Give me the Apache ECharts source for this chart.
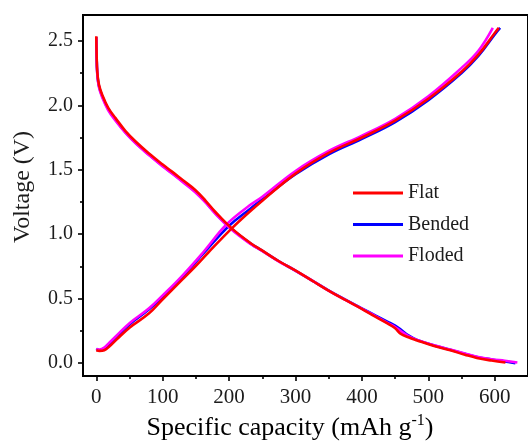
<!DOCTYPE html>
<html>
<head>
<meta charset="utf-8">
<script src="https://cdn.jsdelivr.net/npm/echarts@6/dist/echarts.min.js"></script>
<style>
  html, body { margin: 0; padding: 0; background: #fff; }
  #chart { width: 528px; height: 448px; }
</style>
</head>
<body>
<div id="chart"></div>
<script>
// Galvanostatic charge/discharge profiles: [capacity (mAh/g), voltage (V)]
const flatDischarge = [[0,2.535],[0.5,2.40],[1.5,2.26],[4,2.16],[9,2.08],[18,1.98],[29,1.90],[44,1.80],[60,1.715],[79,1.628],[100,1.54],[114,1.485],[130,1.42],[149,1.343],[165,1.257],[179,1.174],[204,1.045],[233,0.928],[249,0.876],[275,0.79],[299,0.721],[325,0.64],[349,0.565],[375,0.49],[399,0.423],[420,0.36],[439,0.306],[450,0.27],[458,0.229],[470,0.20],[483,0.176],[510,0.13],[533,0.099],[555,0.065],[573,0.04],[595,0.02],[616,0.005]];
const flatCharge = [[0,0.10],[5,0.095],[12,0.10],[20,0.13],[30,0.18],[50,0.275],[79,0.384],[100,0.495],[129,0.645],[150,0.755],[169,0.86],[204,1.045],[230,1.17],[250,1.26],[300,1.47],[350,1.63],[400,1.75],[450,1.88],[500,2.05],[550,2.26],[575,2.39],[600,2.56],[606,2.60]];

const bendedDischarge = [[0,2.53],[0.5,2.39],[1.5,2.25],[4,2.15],[9,2.07],[18,1.97],[29,1.89],[44,1.79],[60,1.705],[79,1.62],[100,1.53],[114,1.475],[130,1.41],[149,1.33],[165,1.247],[179,1.165],[204,1.04],[233,0.925],[249,0.875],[275,0.79],[299,0.72],[325,0.64],[349,0.566],[375,0.492],[399,0.427],[420,0.37],[439,0.32],[450,0.29],[458,0.262],[470,0.215],[483,0.18],[510,0.135],[533,0.104],[555,0.072],[573,0.048],[595,0.028],[615,0.012],[631,0.0]];
const bendedCharge = [[0,0.11],[5,0.10],[12,0.115],[20,0.15],[30,0.20],[50,0.30],[79,0.415],[100,0.515],[129,0.665],[163,0.86],[200,1.065],[230,1.19],[250,1.27],[300,1.465],[350,1.62],[400,1.74],[450,1.87],[500,2.04],[550,2.25],[575,2.38],[600,2.55],[608,2.60]];

const flodedDischarge = [[0,2.525],[0.5,2.38],[1.5,2.24],[4,2.14],[9,2.06],[18,1.96],[29,1.88],[44,1.785],[60,1.70],[79,1.615],[100,1.525],[114,1.47],[130,1.405],[149,1.325],[165,1.242],[179,1.16],[204,1.035],[233,0.922],[249,0.872],[275,0.788],[299,0.72],[325,0.64],[349,0.565],[375,0.49],[399,0.425],[420,0.365],[439,0.31],[450,0.28],[458,0.25],[470,0.21],[483,0.18],[510,0.136],[533,0.105],[555,0.074],[573,0.05],[595,0.03],[615,0.018],[634,0.005]];
const flodedCharge = [[0,0.11],[5,0.105],[12,0.12],[20,0.16],[30,0.21],[50,0.31],[79,0.423],[100,0.525],[129,0.675],[161,0.86],[196,1.075],[230,1.22],[250,1.29],[300,1.49],[350,1.645],[400,1.765],[450,1.895],[500,2.07],[550,2.29],[575,2.42],[597,2.60]];

const legendNames = ['Flat', 'Bended', 'Floded'];
const xTicks = [0, 100, 200, 300, 400, 500, 600];
const xMinorTicks = [50, 150, 250, 350, 450, 550];
const yTicks = [0, 0.5, 1.0, 1.5, 2.0, 2.5];
const yMinorTicks = [0.25, 0.75, 1.25, 1.75, 2.25];

const FONT = '"Liberation Serif", "Times New Roman", serif';
const INK = '#1c1c1c';
const colors = { Flat: '#ff0000', Bended: '#0000ff', Floded: '#ff00ff' };

function curve(name, data) {
  return {
    name: name, type: 'line', data: data,
    xAxisIndex: 0, yAxisIndex: 0,
    showSymbol: false, symbol: 'none', smooth: 0.4,
    lineStyle: { color: colors[name], width: 2.6 },
    itemStyle: { color: colors[name] },
    animation: false
  };
}

const xBase = { type: 'value', min: -20, max: 650, gridIndex: 0 };
const yBase = { type: 'value', min: -0.1, max: 2.7, gridIndex: 0 };

const chart = echarts.init(document.getElementById('chart'), null, { renderer: 'canvas' });
chart.setOption({
  backgroundColor: '#fff',
  animation: false,
  grid: { left: 83, right: -3, top: 15, bottom: 72, show: true, borderColor: '#000', borderWidth: 2, backgroundColor: 'transparent' },
  xAxis: [
    Object.assign({}, xBase, {
      position: 'bottom',
      axisLine: { show: true, onZero: false, lineStyle: { color: '#000', width: 2 } },
      axisTick: { show: true, inside: false, length: 5, lineStyle: { color: '#000', width: 1.6 }, customValues: xTicks },
      axisLabel: { show: true, margin: 11, fontFamily: FONT, fontSize: 21, color: INK, customValues: xTicks },
      splitLine: { show: false }
    }),
    Object.assign({}, xBase, {
      position: 'bottom',
      axisLine: { show: false, onZero: false },
      axisTick: { show: true, inside: false, length: 3, lineStyle: { color: '#000', width: 1.6 }, customValues: xMinorTicks },
      axisLabel: { show: false },
      splitLine: { show: false }
    })
  ],
  yAxis: [
    Object.assign({}, yBase, {
      position: 'left',
      axisLine: { show: true, onZero: false, lineStyle: { color: '#000', width: 2 } },
      axisTick: { show: true, inside: false, length: 5, lineStyle: { color: '#000', width: 1.6 }, customValues: yTicks },
      axisLabel: { show: true, margin: 10, fontFamily: FONT, fontSize: 20, color: INK, customValues: yTicks,
        formatter: function (v) { return v.toFixed(1); } },
      splitLine: { show: false }
    }),
    Object.assign({}, yBase, {
      position: 'left',
      axisLine: { show: false, onZero: false },
      axisTick: { show: true, inside: false, length: 3, lineStyle: { color: '#000', width: 1.6 }, customValues: yMinorTicks },
      axisLabel: { show: false },
      splitLine: { show: false }
    })
  ],
  legend: {
    data: legendNames,
    orient: 'vertical',
    left: 353, top: 183,
    padding: 0,
    itemWidth: 50, itemHeight: 12, itemGap: 11.5,
    textStyle: { fontFamily: FONT, fontSize: 20, color: INK, padding: [0, 0, 0, 0] },
    icon: 'path://M0,0L50,0L50,3L0,3Z'
  },
  graphic: [
    {
      type: 'text', x: 23, y: 187, rotation: Math.PI / 2,
      style: { text: 'Voltage (V)', font: '24px ' + FONT, fill: INK, align: 'center', verticalAlign: 'middle' }
    },
    {
      type: 'text', x: 290, y: 428,
      style: {
        text: '{a|Specific capacity (mAh g}{s|-1}{a|)}',
        align: 'center', verticalAlign: 'middle',
        rich: {
          a: { fontFamily: FONT, fontSize: 26, color: INK, lineHeight: 30 },
          s: { fontFamily: FONT, fontSize: 16, color: INK, verticalAlign: 'top', lineHeight: 30 }
        }
      }
    }
  ],
  series: [
    curve('Bended', bendedDischarge),
    curve('Bended', bendedCharge),
    curve('Floded', flodedDischarge),
    curve('Floded', flodedCharge),
    curve('Flat', flatDischarge),
    curve('Flat', flatCharge)
  ]
});
</script>
</body>
</html>
